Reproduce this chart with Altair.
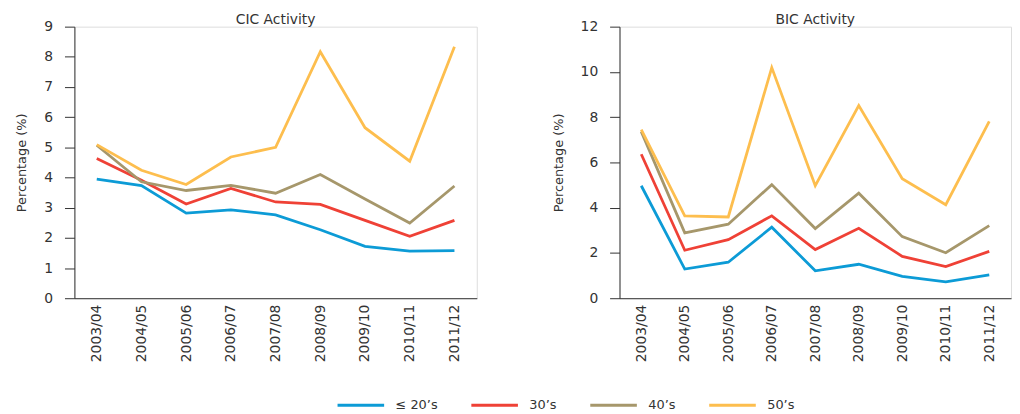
import altair as alt
import pandas as pd

years = ["2003/04", "2004/05", "2005/06", "2006/07", "2007/08",
         "2008/09", "2009/10", "2010/11", "2011/12"]
groups = ["≤ 20’s", "30’s", "40’s", "50’s"]
colors = ["#0c9bd6", "#ef4136", "#a6976b", "#fdbe4e"]

cic_20 = [3.95, 3.73, 2.82, 2.93, 2.76, 2.27, 1.72, 1.56, 1.58]
cic_30 = [4.63, 3.91, 3.12, 3.64, 3.19, 3.11, 2.58, 2.05, 2.58]
cic_40 = [5.07, 3.86, 3.57, 3.74, 3.48, 4.10, 3.29, 2.49, 3.72]
cic_50 = [5.09, 4.24, 3.77, 4.68, 5.00, 8.17, 5.65, 4.54, 8.33]

bic_20 = [4.97, 1.29, 1.59, 3.14, 1.21, 1.50, 0.97, 0.72, 1.03]
bic_30 = [6.36, 2.12, 2.59, 3.64, 2.15, 3.09, 1.85, 1.40, 2.07]
bic_40 = [7.36, 2.89, 3.27, 5.02, 3.08, 4.64, 2.72, 2.01, 3.21]
bic_50 = [7.45, 3.64, 3.59, 10.19, 4.97, 8.51, 5.28, 4.13, 7.81]


def make_df(series):
    rows = []
    for g, vals in zip(groups, series):
        for y, v in zip(years, vals):
            rows.append({"year": y, "group": g, "value": v, "order": groups.index(g)})
    return pd.DataFrame(rows)


cic_df = make_df([cic_20, cic_30, cic_40, cic_50])
bic_df = make_df([bic_20, bic_30, bic_40, bic_50])

FONT = "DejaVu Sans"
TXT = "#333333"


def panel(df, title, ymax, step, width, show_legend):
    color_kwargs = dict(scale=alt.Scale(domain=groups, range=colors))
    if show_legend:
        color_kwargs["legend"] = alt.Legend(
            orient="none", legendX=264, legendY=357, direction="horizontal",
            title=None, symbolType="stroke", symbolSize=2209, symbolStrokeWidth=3,
            labelFontSize=13, labelFont=FONT, labelColor=TXT, labelOffset=10,
            columnPadding=27,
        )
    return alt.Chart(df).mark_line(strokeWidth=2.8).encode(
        x=alt.X("year:N", sort=years,
                scale=alt.Scale(type="point", padding=0.5),
                axis=alt.Axis(title=None, labelAngle=-90, ticks=False, labelPadding=6,
                              domainColor=TXT, labelFontSize=14, labelFont=FONT,
                              labelColor=TXT, grid=False)),
        y=alt.Y("value:Q", scale=alt.Scale(domain=[0, ymax], nice=False),
                axis=alt.Axis(title="Percentage (%)", values=list(range(0, ymax + 1, step)),
                              tickSize=10, labelPadding=12, grid=False, titlePadding=15,
                              domainColor=TXT, tickColor=TXT, labelFontSize=14,
                              labelFont=FONT, labelColor=TXT, titleFont=FONT,
                              titleFontSize=13, titleFontWeight="normal",
                              titleColor=TXT)),
        color=alt.Color("group:N", **color_kwargs),
        order=alt.Order("order:Q"),
    ).properties(
        width=width, height=274,
        title=alt.TitleParams(title, fontSize=14, fontWeight="normal", font=FONT,
                              color=TXT, offset=-7, frame="group"),
    )


left = panel(cic_df, "CIC Activity", 9, 1, 406, True)
right = panel(bic_df, "BIC Activity", 12, 2, 395, False)

chart = alt.hconcat(left, right, spacing=74).properties(
    padding={"left": 7, "top": 2, "right": 0, "bottom": 0}
).configure_view(stroke=None).configure(font=FONT)

chart.save("out.html", embed_options={"renderer": "svg", "actions": False})
